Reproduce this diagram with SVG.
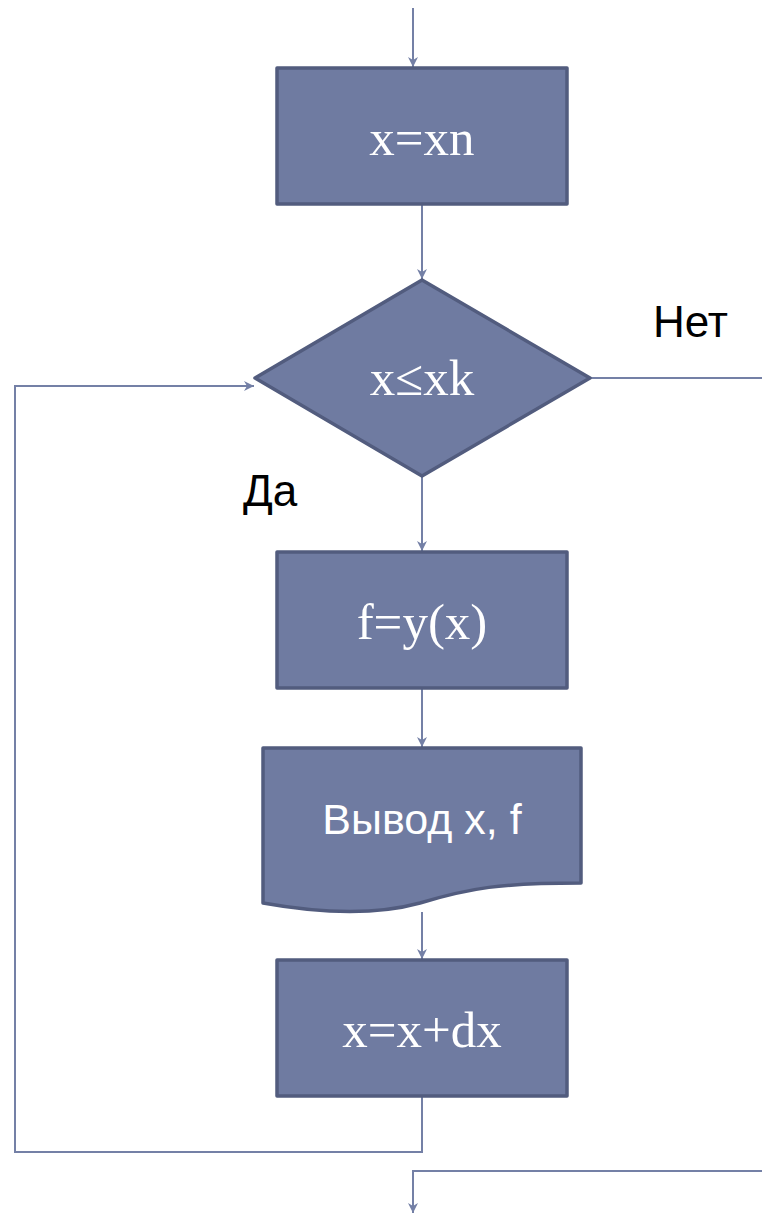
<svg xmlns="http://www.w3.org/2000/svg" width="762" height="1215" viewBox="0 0 762 1215">
<style>
.shape{fill:#6F7BA1;stroke:#525C7E;stroke-width:3.5;stroke-linejoin:round}
.math{font-family:"Liberation Serif",serif;font-size:51px;fill:#fff;text-anchor:middle}
.sans{font-family:"Liberation Sans",sans-serif;font-size:43px;fill:#fff;text-anchor:middle}
.lbl{font-family:"Liberation Sans",sans-serif;font-size:44px;fill:#000}
.conn{fill:none;stroke:#7480A6;stroke-width:2}
</style>
<defs>
<marker id="arr" viewBox="0 0 10 10" refX="10" refY="5" markerWidth="10" markerHeight="10" markerUnits="userSpaceOnUse" orient="auto">
<path d="M0,0 L10,5 L0,10 L3,5 Z" fill="#7480A6"/>
</marker>
</defs>
<g id="connectors">
<path class="conn" d="M413,8 V67" marker-end="url(#arr)"/>
<path class="conn" d="M422,204 V279" marker-end="url(#arr)"/>
<path class="conn" d="M590,378 H762"/>
<path class="conn" d="M422,476 V551" marker-end="url(#arr)"/>
<path class="conn" d="M422,688 V747" marker-end="url(#arr)"/>
<path class="conn" d="M422,912 V959" marker-end="url(#arr)"/>
<path class="conn" d="M422,1096 V1152 H15 V386 H254" marker-end="url(#arr)"/>
<path class="conn" d="M762,1171 H413 V1213" marker-end="url(#arr)"/>
</g>
<g id="n1">
<rect class="shape" x="277" y="68" width="290" height="136"/>
<text class="math" x="422" y="155">x=xn</text>
</g>
<g id="n2">
<polygon class="shape" points="422,280 590,378 422,476 255,378"/>
<text class="math" x="422" y="395">x≤xk</text>
</g>
<g id="lbl-no"><text class="lbl" x="653" y="337">Нет</text></g>
<g id="lbl-yes"><text class="lbl" x="243" y="506">Да</text></g>
<g id="n3">
<rect class="shape" x="277" y="552" width="290" height="136"/>
<text class="math" x="422" y="639">f=y(x)</text>
</g>
<g id="n4">
<path class="shape" d="M263,748 H581 V883 C500,883 470,888 420,903 C380,914 330,915 263,903 Z"/>
<text class="sans" x="422" y="834">Вывод x, f</text>
</g>
<g id="n5">
<rect class="shape" x="277" y="960" width="290" height="136"/>
<text class="math" x="422" y="1047">x=x+dx</text>
</g>
</svg>
